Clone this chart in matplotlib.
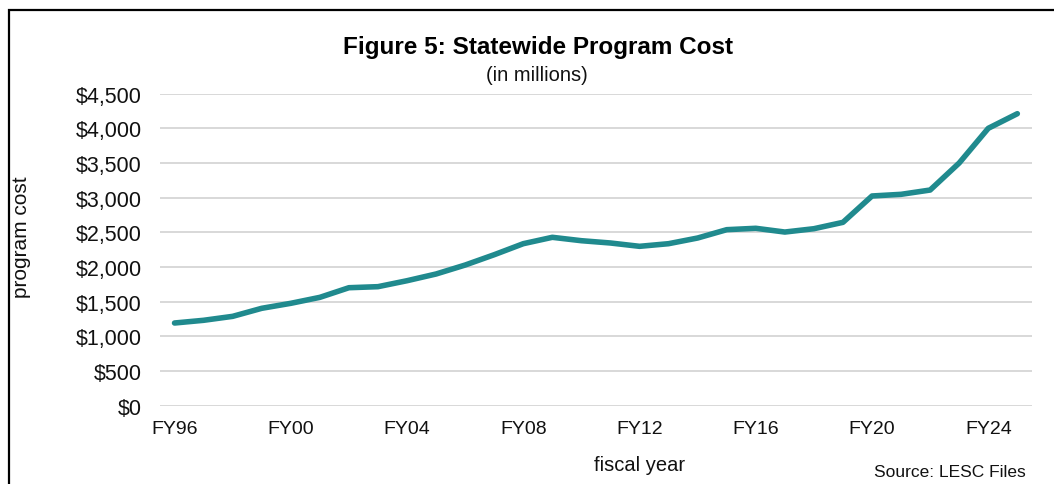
import matplotlib.pyplot as plt
from matplotlib.patches import Rectangle
from matplotlib.ticker import FuncFormatter

# данные: стоимость программы по финансовым годам (в млн $)
years = ['FY96', 'FY97', 'FY98', 'FY99', 'FY00', 'FY01', 'FY02', 'FY03', 'FY04', 'FY05',
         'FY06', 'FY07', 'FY08', 'FY09', 'FY10', 'FY11', 'FY12', 'FY13', 'FY14', 'FY15',
         'FY16', 'FY17', 'FY18', 'FY19', 'FY20', 'FY21', 'FY22', 'FY23', 'FY24', 'FY25']
cost = [1193, 1232, 1289, 1405, 1477, 1563, 1702, 1717, 1803, 1900,
        2029, 2178, 2337, 2429, 2380, 2347, 2299, 2337, 2419, 2539,
        2559, 2505, 2553, 2645, 3025, 3049, 3111, 3501, 4001, 4212]
yticks = [0, 500, 1000, 1500, 2000, 2500, 3000, 3500, 4000, 4500]

plt.rcParams['font.family'] = ['Liberation Sans', 'DejaVu Sans']

fig = plt.figure(figsize=(10.54, 4.85), dpi=100)
ax = fig.add_axes([0.1518, 0.1614, 0.8272, 0.6433])

x = list(range(len(years)))
ax.plot(x, cost, color='#208A8E', linewidth=4, solid_capstyle='round', solid_joinstyle='round', zorder=3)

ax.set_xlim(-0.5, len(years) - 0.5)
ax.set_ylim(0, 4500)
ax.set_yticks(yticks)
ax.yaxis.set_major_formatter(FuncFormatter(lambda v, p: '${:,.0f}'.format(v)))
ax.set_xticks(x[::4])
ax.set_xticklabels(years[::4])
ax.grid(axis='y', color='#D6D6D6', linewidth=1.3)
ax.set_axisbelow(True)
for s in ax.spines.values():
    s.set_visible(False)
ax.tick_params(axis='both', length=0, colors='#111111')
ax.tick_params(axis='y', pad=13, labelsize=15.5)
ax.tick_params(axis='x', pad=10, labelsize=14)

# заголовки и подписи
fig.text(0.51, 0.902, 'Figure 5: Statewide Program Cost', ha='center', va='center',
         fontsize=17.5, fontweight='bold', family=['Liberation Sans Narrow', 'Liberation Sans', 'DejaVu Sans'])
fig.text(0.509, 0.845, '(in millions)', ha='center', va='center', fontsize=14.5, color='#111111')
fig.text(22 / 1054, 1 - 237 / 485, 'program cost', rotation=90, ha='center', va='center',
         fontsize=15, color='#111111')
fig.text(0.607, 0.041, 'fiscal year', ha='center', va='center', fontsize=14.5, color='#111111')
fig.text(0.973, 0.025, 'Source: LESC Files', ha='right', va='center', fontsize=12.5, color='#111111')

# рамка вокруг рисунка
fig.patches.append(Rectangle((8.5 / 1054, -0.1), 1.2, 1.1 - 10.5 / 485, transform=fig.transFigure,
                             fill=False, edgecolor='black', linewidth=1.6))

fig.savefig('out.png', dpi=100)
